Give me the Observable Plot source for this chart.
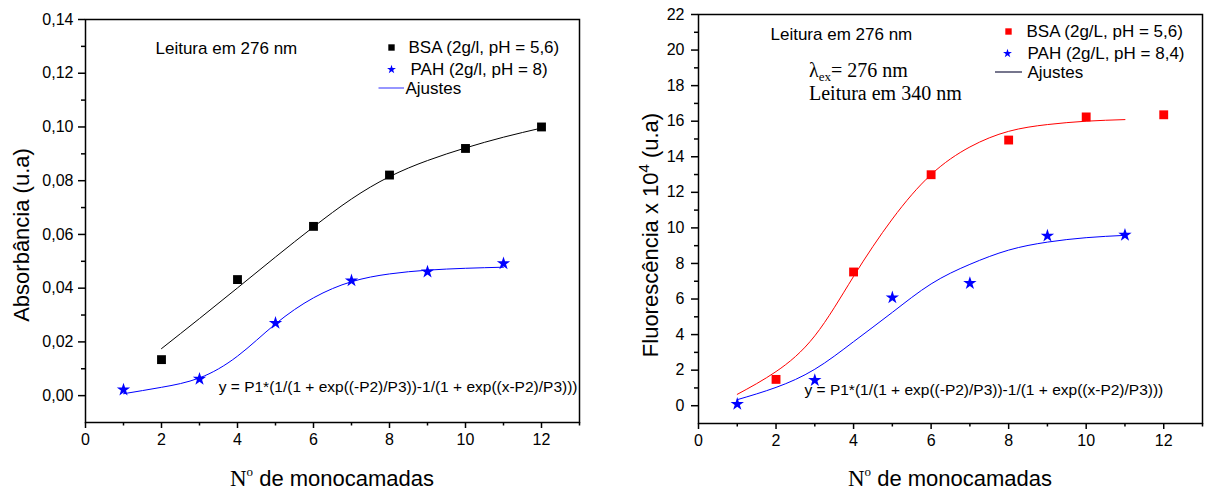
<!DOCTYPE html>
<html><head><meta charset="utf-8">
<script src="https://cdn.jsdelivr.net/npm/d3@7"></script>
<script src="https://cdn.jsdelivr.net/npm/@observablehq/plot@0.6"></script>
<style>
html,body{margin:0;padding:0;background:#fff;}
#wrap{display:flex;width:1206px;height:491px;overflow:hidden;}
</style></head><body><div id="wrap"></div>
<script>
// ---------- Data ----------
// Left panel: Absorbância
const absBsaX = [2, 4, 6, 8, 10, 12];
const absBsaY = [0.0134, 0.0432, 0.0630, 0.0821, 0.0920, 0.1000];
const absPahX = [1, 3, 5, 7, 9, 11];
const absPahY = [0.0022, 0.0062, 0.0270, 0.0428, 0.0461, 0.0492];
const absBsaFitX = [2, 3, 4, 5, 6, 7, 8, 9, 10, 11, 12];
const absBsaFitY = [0.0175, 0.0287, 0.0401, 0.0516, 0.0628, 0.0732, 0.0815, 0.0875, 0.0922, 0.0962, 0.0996];
const absPahFitX = [1, 2, 3, 4, 5, 6, 7, 8, 9, 10, 11];
const absPahFitY = [0.0007, 0.0031, 0.0066, 0.0147, 0.0267, 0.0364, 0.0424, 0.0453, 0.0467, 0.0474, 0.0478];
// Right panel: Fluorescência x 10^4
const flBsaX = [2, 4, 6, 8, 10, 12];
const flBsaY = [1.48, 7.52, 12.99, 14.94, 16.24, 16.36];
const flPahX = [1, 3, 5, 7, 9, 11];
const flPahY = [0.09, 1.43, 6.08, 6.89, 9.55, 9.60];
const flBsaFitX = [1, 2, 3, 4, 5, 6, 7, 8, 9, 10, 11];
const flBsaFitY = [0.64, 1.92, 3.93, 7.27, 10.5, 13.0, 14.55, 15.43, 15.81, 16.0, 16.09];
const flPahFitX = [1, 2, 3, 4, 5, 6, 7, 8, 9, 10, 11];
const flPahFitY = [0.34, 1.03, 2.05, 3.6, 5.25, 6.85, 7.95, 8.75, 9.2, 9.45, 9.58];
// Ticks
const xMajorTicks = [0, 2, 4, 6, 8, 10, 12];
const xMinorTicks = [1, 3, 5, 7, 9, 11, 13];
const absMajorTicks = [0, 0.02, 0.04, 0.06, 0.08, 0.10, 0.12, 0.14];
const absMinorTicks = [0.01, 0.03, 0.05, 0.07, 0.09, 0.11, 0.13];
const flMajorTicks = [0, 2, 4, 6, 8, 10, 12, 14, 16, 18, 20, 22];
const flMinorTicks = [1, 3, 5, 7, 9, 11, 13, 15, 17, 19, 21];
// Texts
const formula = "y = P1*(1/(1 + exp((-P2)/P3))-1/(1 + exp((x-P2)/P3)))";
const absLegend = ["BSA (2g/l, pH = 5,6)", "PAH (2g/l, pH = 8)", "Ajustes"];
const flLegend = ["BSA (2g/L, pH = 5,6)", "PAH (2g/L, pH = 8,4)", "Ajustes"];

const SANS = "Liberation Sans, Arial, sans-serif";
const SERIF = "Liberation Serif, Times New Roman, serif";
const zipXY = (xs, ys) => xs.map((x, i) => ({x, y: ys[i]}));

function panel(o) {
  const svg = Plot.plot({
    width: o.width, height: 491,
    marginLeft: o.ml, marginRight: o.mr, marginTop: o.mt, marginBottom: o.mb,
    x: {domain: [0, 13]},
    y: {domain: o.yDomain},
    style: {fontFamily: SANS, fontSize: "16px", color: "black", background: "white", overflow: "visible"},
    marks: [
      Plot.axisX(xMajorTicks, {tickSize: 6, tickPadding: 5, tickFormat: d => String(d), strokeWidth: 1.5, label: null}),
      Plot.axisX(xMinorTicks, {tickSize: 3.5, tickFormat: () => "", strokeWidth: 1.5, label: null}),
      Plot.axisY(o.yMajor, {tickSize: 7, tickPadding: o.yPad, tickFormat: o.fmt, strokeWidth: 1.5, label: null}),
      Plot.axisY(o.yMinor, {tickSize: 4, tickFormat: () => "", strokeWidth: 1.5, label: null}),
      Plot.frame({stroke: "black", strokeWidth: 1.5}),
      Plot.line(o.fit1, {x: "x", y: "y", stroke: o.fit1Color, strokeWidth: 1, curve: "natural"}),
      Plot.line(o.fit2, {x: "x", y: "y", stroke: o.fit2Color, strokeWidth: 1, curve: "natural"}),
      Plot.dot(o.pts1, {x: "x", y: "y", symbol: "square", r: 5, fill: o.pts1Color, stroke: "none"}),
      Plot.dot(o.pts2, {x: "x", y: "y", symbol: "star", r: 4.2, fill: "#0000ff", stroke: "none"}),
      // annotations
      Plot.text(["Leitura em 276 nm"], {frameAnchor: "top-left", dx: o.lei[0], dy: o.lei[1], textAnchor: "start", lineAnchor: "middle", fontSize: 17}),
      Plot.dot([0], {frameAnchor: "top-left", dx: o.lg1[0], dy: o.lg1[1], symbol: "square", r: 3.6, fill: o.pts1Color}),
      Plot.text([o.legend[0]], {frameAnchor: "top-left", dx: o.lg1[2], dy: o.lg1[1], textAnchor: "start", lineAnchor: "middle", fontSize: 17}),
      Plot.dot([0], {frameAnchor: "top-left", dx: o.lg2[0], dy: o.lg2[1], symbol: "star", r: 2.8, fill: "#0000ff"}),
      Plot.text([o.legend[1]], {frameAnchor: "top-left", dx: o.lg2[2], dy: o.lg2[1], textAnchor: "start", lineAnchor: "middle", fontSize: 17}),
      Plot.text([o.legend[2]], {frameAnchor: "top-left", dx: o.lg3[2], dy: o.lg3[1], textAnchor: "start", lineAnchor: "middle", fontSize: 17}),
      Plot.text([formula], {frameAnchor: "top-left", dx: o.form[0], dy: o.form[1], textAnchor: o.form[2], lineAnchor: "middle", fontSize: 15.5})
    ]
  });
  const s = d3.select(svg);
  s.selectAll("text").filter(function() { return this.textContent === ""; }).remove();
  // legend line sample
  s.append("line")
    .attr("x1", o.ml + o.lg3[0][0]).attr("x2", o.ml + o.lg3[0][1])
    .attr("y1", o.mt + o.lg3[1]).attr("y2", o.mt + o.lg3[1])
    .attr("stroke", o.lineLegendColor).attr("stroke-width", 1.2);
  // x title
  const fx = (o.ml + (o.width - o.mr)) / 2;
  const xt = s.append("text").attr("x", fx).attr("y", 486).attr("text-anchor", "middle")
    .attr("fill", "black");
  xt.append("tspan").attr("font-family", SERIF).attr("font-size", 23).text("N");
  xt.append("tspan").attr("font-family", SERIF).attr("font-size", 13).attr("dy", -10).text("o");
  xt.append("tspan").attr("font-family", SANS).attr("font-size", 22).attr("dy", 10).text(" de monocamadas");
  // y title
  const yt = s.append("text").attr("transform", `translate(${o.yTitleX},235) rotate(-90)`)
    .attr("text-anchor", "middle").attr("font-family", SANS).attr("font-size", 22).attr("fill", "black");
  o.yTitle(yt);
  if (o.extra) o.extra(s);
  return svg;
}

const left = panel({
  width: 603, ml: 85, mr: 24, mt: 19, mb: 69, yPad: 5,
  yDomain: [-0.01, 0.14], yMajor: absMajorTicks, yMinor: absMinorTicks,
  fmt: d => d.toFixed(2).replace(".", ","),
  fit1: zipXY(absBsaFitX, absBsaFitY), fit1Color: "#000000",
  fit2: zipXY(absPahFitX, absPahFitY), fit2Color: "#0000ff",
  pts1: zipXY(absBsaX, absBsaY), pts1Color: "#000000",
  pts2: zipXY(absPahX, absPahY),
  lei: [70, 29],
  lg1: [306, 28, 323], lg2: [306, 50, 325], lg3: [[293.5, 319], 69, 320],
  legend: absLegend, lineLegendColor: "#5050ff",
  form: [492, 368, "end"],
  yTitleX: 29,
  yTitle: t => t.text("Absorbância (u.a)")
});

const right = panel({
  width: 603, ml: 95, mr: 4, mt: 14, mb: 68, yPad: 7,
  yDomain: [-1, 22], yMajor: flMajorTicks, yMinor: flMinorTicks,
  fmt: d => String(d),
  fit1: zipXY(flBsaFitX, flBsaFitY), fit1Color: "#ff0000",
  fit2: zipXY(flPahFitX, flPahFitY), fit2Color: "#0000ff",
  pts1: zipXY(flBsaX, flBsaY), pts1Color: "#ff0000",
  pts2: zipXY(flPahX, flPahY),
  lei: [72, 20],
  lg1: [310, 17, 328], lg2: [309, 39, 329], lg3: [[297, 324], 58, 329],
  legend: flLegend, lineLegendColor: "#1a1a40",
  form: [106, 376, "start"],
  yTitleX: 55,
  yTitle: t => {
    t.append("tspan").text("Fluorescência x 10");
    t.append("tspan").attr("font-size", 15).attr("dy", -9).text("4");
    t.append("tspan").attr("dy", 9).text(" (u.a)");
  },
  extra: s => {
    const l = s.append("text").attr("x", 95 + 111).attr("y", 77).attr("text-anchor", "start")
      .attr("font-family", SERIF).attr("font-size", 20).attr("fill", "black");
    l.append("tspan").text("λ");
    l.append("tspan").attr("font-size", 13).attr("dy", 4).text("ex");
    l.append("tspan").attr("dy", -4).text("= 276 nm");
    s.append("text").attr("x", 95 + 111).attr("y", 100).attr("text-anchor", "start")
      .attr("font-family", SERIF).attr("font-size", 20).attr("fill", "black").text("Leitura em 340 nm");
  }
});

document.getElementById("wrap").append(left, right);
</script>
</body></html>
